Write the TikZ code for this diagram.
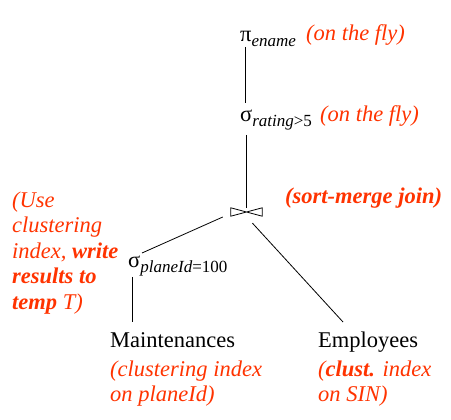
\documentclass[tikz,border=0pt]{standalone}
\usepackage{fontspec}
\setmainfont{Liberation Serif}
\definecolor{noteRed}{RGB}{255,51,0}
\newcommand{\lowsub}[1]{\raisebox{-5pt}{\fontsize{17}{17}\selectfont #1}}
\begin{document}
\begin{tikzpicture}[x=1pt,y=-1pt,
  every node/.style={inner sep=0pt},
  txt/.style={anchor=base west, font=\fontsize{22.5}{25.5}\selectfont},
  note/.style={txt, text=noteRed, font=\fontsize{22.5}{25.5}\selectfont\itshape},
  blocknote/.style={note, anchor=north west, align=left},
  conn/.style={draw=black, line width=0.8pt}]
\useasboundingbox (0,0) rectangle (451,420);

\node[txt] (pi) at (240,42) {π\lowsub{\itshape ename}};
\node[note] (fly1) at (306,41) {(on the fly)};
\node[txt] (sigA) at (240,122) {σ\lowsub{\itshape rating\upshape >5}};
\node[note] (fly2) at (320,122) {(on the fly)};
\node[minimum width=31pt, minimum height=8pt] (join) at (246.5,212) {};
\draw[line width=0.8pt] (join.north west) -- (join.south west) -- (join.north east) -- (join.south east) -- cycle;
\node[note] (smj) at (285,204) {\bfseries (sort-merge join)};
\node[txt] (sigB) at (128,268) {σ\lowsub{\itshape planeId\upshape =100}};
\node[blocknote] (use) at (12,191.5) {(Use\\clustering\\index, \textbf{write}\\\textbf{results to}\\\textbf{temp} T)};
\node[txt] (maint) at (110,348) {Maintenances};
\node[blocknote] (mnote) at (110,360.5) {(clustering index\\on planeId)};
\node[txt] (emp) at (318,348) {Employees};
\node[blocknote] (enote) at (318,360.5) {(\textbf{clust.} index\\on SIN)};

\draw[conn] ([shift={(5,5)}]pi.base west) -- ([shift={(5,-19)}]sigA.base west);
\draw[conn] ([shift={(6.5,13)}]sigA.base west) -- (join.north);
\draw[conn] ([shift={(-8,5)}]join.west) -- ([shift={(14,-15)}]sigB.base west);
\draw[conn] ([shift={(6,7)}]join.south) -- ([shift={(25,-26)}]emp.base west);
\draw[conn] ([shift={(4.5,9)}]sigB.base west) -- ([shift={(22.5,-26)}]maint.base west);
\end{tikzpicture}
\end{document}
